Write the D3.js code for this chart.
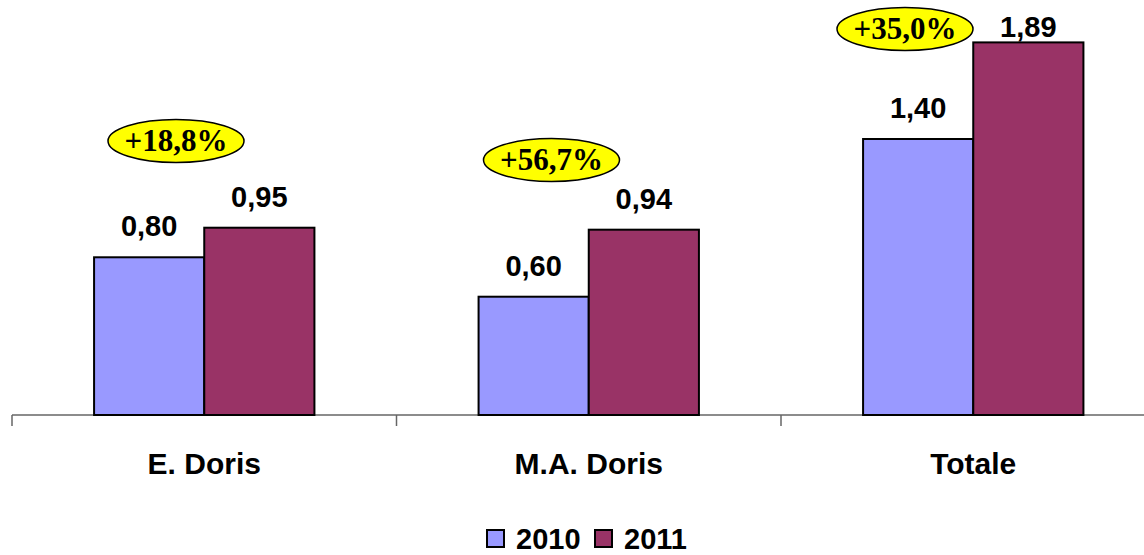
<!DOCTYPE html>
<html>
<head>
<meta charset="utf-8">
<script src="https://cdn.jsdelivr.net/npm/d3@7"></script>
<style>
  html, body { margin: 0; padding: 0; background: #fff; }
  svg { display: block; }
</style>
</head>
<body>
<svg id="chart" width="1144" height="555"></svg>
<script>
const categories = ["E. Doris", "M.A. Doris", "Totale"];
const seriesNames = ["2010", "2011"];
const values2010 = [0.80, 0.60, 1.40];
const values2011 = [0.95, 0.94, 1.89];
const valueLabels2010 = ["0,80", "0,60", "1,40"];
const valueLabels2011 = ["0,95", "0,94", "1,89"];
const changeLabels = ["+18,8%", "+56,7%", "+35,0%"];

// annotation layout (bubble centres relative to each category band start)
const bubbleLayout = [
  { dx: 164, y: 141 },
  { dx: 155, y: 160 },
  { dx: 124, y: 29 }
];

const colors = { "2010": "#9999FF", "2011": "#993366" };
const svg = d3.select("#chart");

const x = d3.scaleBand().domain(categories).range([12, 1165.5]).paddingInner(0).paddingOuter(0);
const xs = d3.scaleBand().domain(seriesNames).range([0, x.bandwidth()]).paddingInner(0).paddingOuter(0.745);
const y = d3.scaleLinear().domain([0, 2.1]).range([415, 1]);

const data = categories.map((c, i) => ({
  cat: c,
  vals: [
    { s: "2010", v: values2010[i], label: valueLabels2010[i] },
    { s: "2011", v: values2011[i], label: valueLabels2011[i] }
  ]
}));

// axis
const axisG = svg.append("g").attr("stroke", "#666").attr("stroke-width", 1.5);
axisG.append("line").attr("x1", x.range()[0]).attr("x2", x.range()[1])
  .attr("y1", y(0)).attr("y2", y(0));
const tickXs = categories.map(c => x(c)).concat([x.range()[1]]);
axisG.selectAll("line.tick").data(tickXs).join("line")
  .attr("class", "tick")
  .attr("x1", d => d).attr("x2", d => d)
  .attr("y1", y(0)).attr("y2", y(0) + 11);

// bars
const groups = svg.selectAll("g.cat").data(data).join("g")
  .attr("class", "cat")
  .attr("transform", d => `translate(${x(d.cat)},0)`);

groups.selectAll("rect").data(d => d.vals).join("rect")
  .attr("x", d => xs(d.s))
  .attr("width", xs.bandwidth())
  .attr("y", d => y(d.v))
  .attr("height", d => y(0) - y(d.v))
  .attr("fill", d => colors[d.s])
  .attr("stroke", "#000")
  .attr("stroke-width", 2);

groups.selectAll("text.val").data(d => d.vals).join("text")
  .attr("class", "val")
  .attr("x", d => xs(d.s) + xs.bandwidth() / 2)
  .attr("y", d => Math.max(y(d.v) - 21, 37))
  .attr("text-anchor", "middle")
  .attr("font-family", "Liberation Sans, Arial, sans-serif")
  .attr("font-weight", "bold")
  .attr("font-size", 29)
  .attr("fill", "#000")
  .text(d => d.label);

// category labels
svg.selectAll("text.cat").data(categories).join("text")
  .attr("class", "cat")
  .attr("x", d => x(d) + x.bandwidth() / 2)
  .attr("y", 474)
  .attr("text-anchor", "middle")
  .attr("font-family", "Liberation Sans, Arial, sans-serif")
  .attr("font-weight", "bold")
  .attr("font-size", 30)
  .attr("fill", "#000")
  .text(d => d);

// change bubbles
const bubbles = svg.selectAll("g.bubble").data(categories).join("g")
  .attr("class", "bubble")
  .attr("transform", (d, i) => `translate(${x(d) + bubbleLayout[i].dx},${bubbleLayout[i].y})`);
bubbles.append("ellipse")
  .attr("rx", 68).attr("ry", 21.5)
  .attr("fill", "#FFFF00").attr("stroke", "#000").attr("stroke-width", 1.5);
bubbles.append("text")
  .attr("text-anchor", "middle")
  .attr("y", 10)
  .attr("font-family", "Liberation Serif, Times New Roman, serif")
  .attr("font-weight", "bold")
  .attr("font-size", 31)
  .attr("fill", "#000")
  .text((d, i) => changeLabels[i]);

// legend
const legend = svg.append("g");
const legendItems = [{ s: "2010", x: 487 }, { s: "2011", x: 595 }];
const li = legend.selectAll("g").data(legendItems).join("g")
  .attr("transform", d => `translate(${d.x},530)`);
li.append("rect").attr("width", 17).attr("height", 17)
  .attr("fill", d => colors[d.s]).attr("stroke", "#000").attr("stroke-width", 2);
li.append("text").attr("x", 29).attr("y", 19)
  .attr("font-family", "Liberation Sans, Arial, sans-serif")
  .attr("font-weight", "bold").attr("font-size", 29)
  .text(d => d.s);
</script>
</body>
</html>
